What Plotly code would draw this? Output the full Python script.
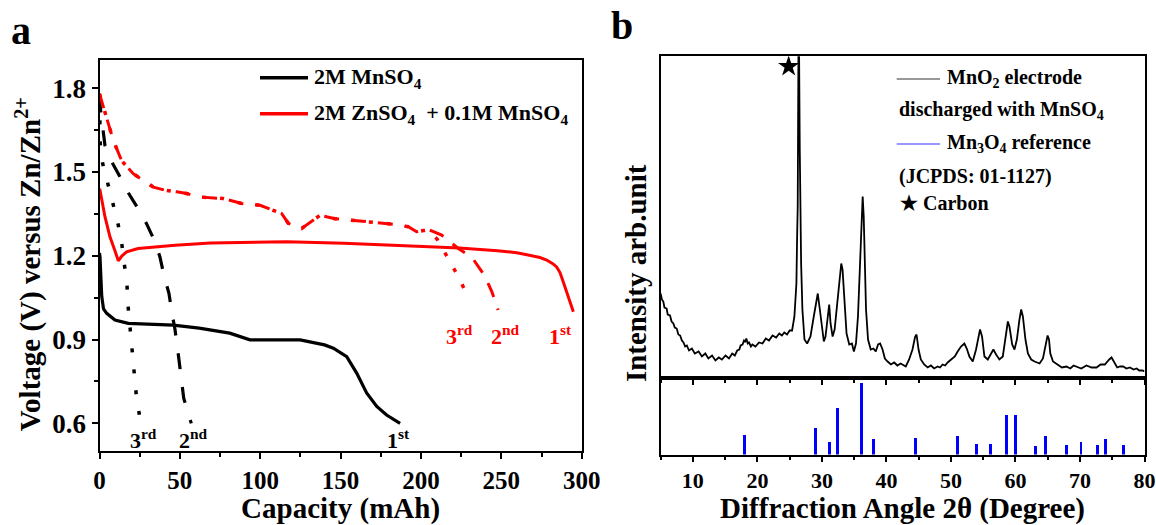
import plotly.graph_objects as go

W, H = 1156, 525
FONT = "Liberation Serif"

# ---------------- Panel a: discharge curves ----------------
blk1_cap = [0, 0.3, 1.4, 2.5, 4.5, 9.6, 17.9, 33, 45.9, 62, 81, 93.6, 105, 124.8, 140, 145.5, 153.8, 160, 166.2, 172.5, 178.6, 187]
blk1_v   = [1.21, 1.196, 1.054, 1.01, 0.994, 0.97, 0.958, 0.955, 0.952, 0.941, 0.923, 0.899, 0.90, 0.899, 0.881, 0.869, 0.839, 0.78, 0.709, 0.661, 0.63, 0.60]

blk2_cap = [0, 0.5, 3.4, 6.5, 12.8, 16.9, 24, 29.2, 34.5, 37.6, 40.3, 43.2, 45.3, 47, 48.8, 52.4, 57.1]
blk2_v   = [1.77, 1.73, 1.595, 1.548, 1.482, 1.435, 1.369, 1.316, 1.25, 1.196, 1.125, 1.066, 0.988, 0.935, 0.857, 0.69, 0.6]

blk3_cap = [0, 0.5, 2, 4.5, 7.6, 11.3, 13.8, 15.4, 17.1, 17.9, 19, 20.4, 21.5, 22.9, 24.8]
blk3_v   = [1.76, 1.6, 1.53, 1.476, 1.40, 1.321, 1.246, 1.173, 1.095, 1.012, 0.935, 0.857, 0.78, 0.70, 0.631]

red1_cap = [0, 0.3, 3.4, 6.5, 9.5, 11.7, 14, 16.9, 24, 47, 69, 116.7, 152, 188, 224, 247.6, 259.6, 266.7, 274, 278.2, 282, 284.4, 286.5, 288.6, 292.7, 294.8]
red1_v   = [1.44, 1.435, 1.34, 1.268, 1.22, 1.182, 1.2, 1.214, 1.226, 1.238, 1.246, 1.25, 1.245, 1.236, 1.228, 1.218, 1.211, 1.203, 1.194, 1.185, 1.172, 1.16, 1.14, 1.105, 1.03, 1.0]

red2_cap = [0, 4.5, 8.6, 13.8, 21, 33.5, 40.8, 48, 54.2, 61.5, 77, 88.5, 99.9, 113.4, 117.5, 125.8, 131, 137.2, 146.5, 157.9, 170.3, 182.8, 192.1, 197.3, 204.6, 212.9, 223.2, 231.5, 239.3, 244, 248]
red2_v   = [1.78, 1.69, 1.613, 1.54, 1.494, 1.446, 1.435, 1.429, 1.423, 1.411, 1.405, 1.387, 1.381, 1.351, 1.316, 1.298, 1.318, 1.345, 1.333, 1.327, 1.321, 1.313, 1.304, 1.286, 1.294, 1.274, 1.226, 1.196, 1.132, 1.073, 1.006]

red3_cap = [0, 4.5, 8.6, 13.8, 21, 33.5, 40.8, 48, 54.2, 61.5, 77, 88.5, 99.9, 113.4, 117.5, 125.8, 131, 137.2, 146.5, 157.9, 170.3, 182.8, 192.1, 197.3, 204.6, 210, 216.7, 223.8, 229.8]
red3_v   = [1.78, 1.69, 1.613, 1.54, 1.494, 1.446, 1.435, 1.429, 1.423, 1.411, 1.405, 1.387, 1.381, 1.351, 1.316, 1.298, 1.318, 1.345, 1.333, 1.327, 1.321, 1.313, 1.304, 1.286, 1.294, 1.26, 1.192, 1.12, 1.045]

# ---------------- Panel b: XRD ----------------
xrd_2theta = [5.0, 5.2, 5.42, 5.6, 5.94, 6.1, 6.46, 6.7, 6.98, 7.2, 7.5, 7.75, 8.03, 8.3, 8.55, 8.8, 9.07, 9.4, 9.85, 10.3,
              10.89, 11.4, 11.93, 12.4, 12.98, 13.5, 14.02, 14.5, 15.06, 15.6, 16.1, 16.5, 16.88, 17.2, 17.4, 17.7, 17.92, 18.1, 18.29, 18.5,
              18.7, 19.0, 19.22, 19.7, 20.26, 20.8, 21.3, 21.8, 22.35, 22.9, 23.39, 23.8, 24.17, 24.6, 25.0, 25.38,
              25.74, 26.05, 26.16, 26.25, 26.36, 26.47, 26.57, 26.67, 26.78, 26.98, 27.3, 27.71, 28.23, 28.74, 29.16, 29.36, 29.68, 30.05,
              30.3, 30.56, 30.92, 31.13, 31.34, 31.66, 31.97, 32.38, 32.69, 33.0, 33.2, 33.51, 33.82, 34.24, 34.65, 34.96, 35.28, 35.59,
              35.9, 36.12, 36.32, 36.48, 36.63, 36.84, 37.15, 37.57, 37.99, 38.35, 38.71, 39.02, 39.4, 39.76, 40.18, 40.7, 41.2, 41.7,
              42.2, 42.74, 43.0, 43.52, 44.04, 44.45, 44.67, 44.98, 45.33, 45.85, 46.4, 46.89, 47.4, 47.93, 48.3, 48.71, 49.1, 49.49,
              50.26, 50.6, 51.04, 51.56, 52.08, 52.45, 52.86, 53.38, 53.89, 54.31, 54.51, 54.82, 55.19, 55.71, 56.22, 56.58, 57.0, 57.51,
              58.04, 58.44, 58.82, 59.07, 59.49, 59.85, 60.22, 60.62, 60.89, 61.15, 61.55, 61.93, 62.44, 62.96, 63.74, 64.26, 64.67, 64.98,
              65.2, 65.4, 65.82, 66.6, 67.2, 67.89, 68.5, 69.0, 69.44, 70.2, 71.0, 71.8, 72.56, 73.2, 73.85, 74.2, 74.54, 74.89,
              75.25, 75.77, 76.2, 76.7, 77.2, 77.74, 78.3, 78.78, 79.2, 79.7, 80.0]
xrd_intensity = [84, 78, 76, 70, 69, 63, 62, 56, 54, 50, 49, 43, 42, 37, 35, 31, 32, 27, 29, 24,
                 26, 21, 24, 19, 22, 17, 20, 18, 22, 19, 24, 22, 27, 28, 32, 33, 37, 36, 39, 34,
                 35, 31, 33, 31, 35, 34, 39, 37, 42, 40, 44, 42, 45, 43, 47, 47,
                 61, 94, 141, 171, 321, 321, 228, 171, 114, 68, 38, 34, 41, 61, 79, 84, 68, 48,
                 36, 41, 61, 73, 54, 41, 48, 74, 101, 114, 108, 74, 44, 33, 34, 26, 34, 61,
                 111, 154, 181, 161, 114, 68, 38, 28, 29, 26, 33, 34, 28, 19, 16, 13, 15, 12,
                 14, 12, 11, 18, 28, 41, 43, 28, 18, 13, 10, 12, 9, 11, 10, 13, 12, 15,
                 19, 21, 26, 31, 34, 29, 21, 16, 28, 43, 48, 41, 21, 18, 24, 28, 23, 18,
                 21, 38, 56, 51, 33, 28, 38, 58, 68, 61, 38, 24, 18, 16, 14, 19, 31, 42,
                 38, 24, 16, 13, 10, 11, 9, 12, 11, 9, 12, 10, 10, 13, 13, 16, 18, 20,
                 16, 10, 11, 11, 9, 10, 8, 9, 7, 7, 6]

carbon_2theta = [24.85]
carbon_intensity = [311]

ref_2theta = [18.0, 28.9, 31.1, 32.4, 36.1, 38.0, 44.5, 50.9, 53.9, 56.0, 58.6, 60.0, 63.1, 64.6, 67.8, 70.1, 72.7, 73.9, 76.7]
ref_rel_int = [28, 38, 18, 66, 100, 22, 24, 27, 15, 15, 56, 56, 13, 27, 14, 18, 14, 22, 14]

def px(x):
    return x / W

def py(y):
    return 1 - y / H

fig = go.Figure()

# Panel a traces
fig.add_trace(go.Scatter(x=blk1_cap, y=blk1_v, mode="lines", name="2M MnSO4 (1st)",
                         line=dict(color="black", width=3.2), xaxis="x", yaxis="y", showlegend=False))
fig.add_trace(go.Scatter(x=blk2_cap, y=blk2_v, mode="lines", name="2M MnSO4 (2nd)",
                         line=dict(color="black", width=3.2, dash="16px,18px"), xaxis="x", yaxis="y", showlegend=False))
fig.add_trace(go.Scatter(x=blk3_cap, y=blk3_v, mode="lines", name="2M MnSO4 (3rd)",
                         line=dict(color="black", width=3.5, dash="4px,17px"), xaxis="x", yaxis="y", showlegend=False))
fig.add_trace(go.Scatter(x=red1_cap, y=red1_v, mode="lines", name="ZnSO4+MnSO4 (1st)",
                         line=dict(color="#ff0000", width=3), xaxis="x", yaxis="y", showlegend=False))
fig.add_trace(go.Scatter(x=red2_cap, y=red2_v, mode="lines", name="ZnSO4+MnSO4 (2nd)",
                         line=dict(color="#ff0000", width=3, dash="15px,12px"), xaxis="x", yaxis="y", showlegend=False))
fig.add_trace(go.Scatter(x=red3_cap, y=red3_v, mode="lines", name="ZnSO4+MnSO4 (3rd)",
                         line=dict(color="#ff0000", width=3.5, dash="4px,14px"), xaxis="x", yaxis="y", showlegend=False))

# Panel b traces
fig.add_trace(go.Scatter(x=xrd_2theta, y=xrd_intensity, mode="lines", name="MnO2 electrode",
                         line=dict(color="black", width=1.8), xaxis="x2", yaxis="y2", showlegend=False))
fig.add_trace(go.Scatter(x=carbon_2theta, y=carbon_intensity, mode="markers", name="Carbon",
                         marker=dict(symbol="star", size=16, color="black"), xaxis="x2", yaxis="y2", showlegend=False))
fig.add_trace(go.Bar(x=ref_2theta, y=ref_rel_int, width=0.45, marker=dict(color="#0000ff", line=dict(width=0)),
                     name="Mn3O4 reference", xaxis="x3", yaxis="y3", showlegend=False))

axis_font = dict(family=FONT, size=29, color="black")
tick_font_ax = dict(family=FONT, size=25, color="black", weight="bold")
tick_font_ay = dict(family=FONT, size=27, color="black", weight="bold")
tick_font_b = dict(family=FONT, size=22, color="black", weight="bold")

fig.update_layout(
    width=W, height=H,
    font=dict(family=FONT, color="black"),
    margin=dict(l=0, r=0, t=0, b=0),
    paper_bgcolor="white", plot_bgcolor="white",
    bargap=0,
    xaxis=dict(domain=[px(99.5), px(581.7)], range=[0, 300], dtick=50, tick0=0,
               ticks="outside", ticklen=6, tickwidth=2, tickcolor="black",
               minor=dict(dtick=25, ticks="outside", ticklen=4, tickwidth=2, tickcolor="black"),
               showline=True, linecolor="black", linewidth=2, mirror=True, showgrid=False, zeroline=False,
               tickfont=tick_font_ax, anchor="y", automargin=False,
               title=dict(text="<b>Capacity (mAh)</b>", font=axis_font, standoff=3)),
    yaxis=dict(domain=[py(451.3), py(60.3)], range=[0.5, 1.9], dtick=0.3, tick0=0.6, tickformat=".1f",
               ticks="outside", ticklen=6, tickwidth=2, tickcolor="black",
               minor=dict(dtick=0.15, ticks="outside", ticklen=4, tickwidth=2, tickcolor="black"),
               showline=True, linecolor="black", linewidth=2, mirror=True, showgrid=False, zeroline=False,
               tickfont=tick_font_ay, anchor="x", automargin=False),
    xaxis2=dict(domain=[px(660.6), px(1144.5)], range=[5, 80], dtick=10, tick0=10,
                ticks="outside", ticklen=5, tickwidth=2, tickcolor="black",
                minor=dict(dtick=5, ticks="outside", ticklen=3, tickwidth=2, tickcolor="black"),
                showticklabels=False, showline=True, linecolor="black", linewidth=2, mirror=True,
                showgrid=False, zeroline=False, anchor="y2", matches="x3", automargin=False),
    yaxis2=dict(domain=[py(377.5), py(56.2)], range=[0, 321.3], showticklabels=False, ticks="",
                showline=True, linecolor="black", linewidth=2, mirror=True, showgrid=False, zeroline=False,
                anchor="x2", automargin=False),
    xaxis3=dict(domain=[px(660.6), px(1144.5)], range=[5, 80], dtick=10, tick0=10,
                ticks="outside", ticklen=5, tickwidth=2, tickcolor="black",
                minor=dict(dtick=5, ticks="outside", ticklen=3, tickwidth=2, tickcolor="black"),
                showline=True, linecolor="black", linewidth=2, mirror=True, showgrid=False, zeroline=False,
                tickfont=tick_font_b, anchor="y3", automargin=False,
                title=dict(text="<b>Diffraction Angle 2θ (Degree)</b>", font=axis_font, standoff=3)),
    yaxis3=dict(domain=[py(454.5), py(377.5)], range=[0, 107.6], showticklabels=False, ticks="",
                showline=True, linecolor="black", linewidth=2, mirror=True, showgrid=False, zeroline=False,
                anchor="x3", automargin=False),
)

# Legend-like shapes and annotations
shapes = [
    dict(type="line", xref="paper", yref="paper", x0=px(260), x1=px(308), y0=py(77.7), y1=py(77.7),
         line=dict(color="black", width=3.5)),
    dict(type="line", xref="paper", yref="paper", x0=px(260), x1=px(308), y0=py(113.8), y1=py(113.8),
         line=dict(color="#ff0000", width=3.5)),
    dict(type="line", xref="paper", yref="paper", x0=px(896.7), x1=px(940), y0=py(79), y1=py(79),
         line=dict(color="#333333", width=1.2)),
    dict(type="line", xref="paper", yref="paper", x0=px(896.7), x1=px(940), y0=py(144), y1=py(144),
         line=dict(color="#3333ff", width=1.2)),
]
fig.update_layout(shapes=shapes)

ann = []
def add_text(x, y, text, size, color="black", xanchor="left", yanchor="middle", angle=0):
    ann.append(dict(xref="paper", yref="paper", x=px(x), y=py(y), text=text, showarrow=False,
                    xanchor=xanchor, yanchor=yanchor, textangle=angle,
                    font=dict(family=FONT, size=size, color=color, weight="bold")))

# vertical axis titles
add_text(28.7, 264.5, "Voltage (V) versus Zn/Zn<sup>2+</sup>", 29, xanchor="center", angle=-90)
add_text(635.6, 273.5, "Intensity arb.unit", 29, xanchor="center", angle=-90)

add_text(311.9, 77.7, "2M MnSO<sub>4</sub>", 22)
add_text(311.9, 113.8, "2M ZnSO<sub>4</sub>  + 0.1M MnSO<sub>4</sub>", 22)
add_text(945, 79, "MnO<sub>2</sub> electrode", 20)
add_text(896.7, 110.7, "discharged with MnSO<sub>4</sub>", 20)
add_text(945, 144, "Mn<sub>3</sub>O<sub>4</sub> reference", 20)
add_text(896.7, 176.7, "(JCPDS: 01-1127)", 20)
add_text(898, 203.3, "★ Carbon", 20)
add_text(21, 30, "a", 40, xanchor="center")
add_text(621.7, 25, "b", 40, xanchor="center")

# cycle labels (panel a)
add_text(143.5, 438.6, "3<sup>rd</sup>", 22, xanchor="center")
add_text(193, 438.6, "2<sup>nd</sup>", 22, xanchor="center")
add_text(398, 438.6, "1<sup>st</sup>", 22, xanchor="center")
add_text(459, 334.8, "3<sup>rd</sup>", 22, color="#ff0000", xanchor="center")
add_text(505, 334.8, "2<sup>nd</sup>", 22, color="#ff0000", xanchor="center")
add_text(560.7, 334.8, "1<sup>st</sup>", 22, color="#ff0000", xanchor="center")

fig.update_layout(annotations=ann)

fig.write_html("out.html", config={"displayModeBar": False},
               post_script="document.body.style.margin='0px';document.body.style.overflow='hidden';")
